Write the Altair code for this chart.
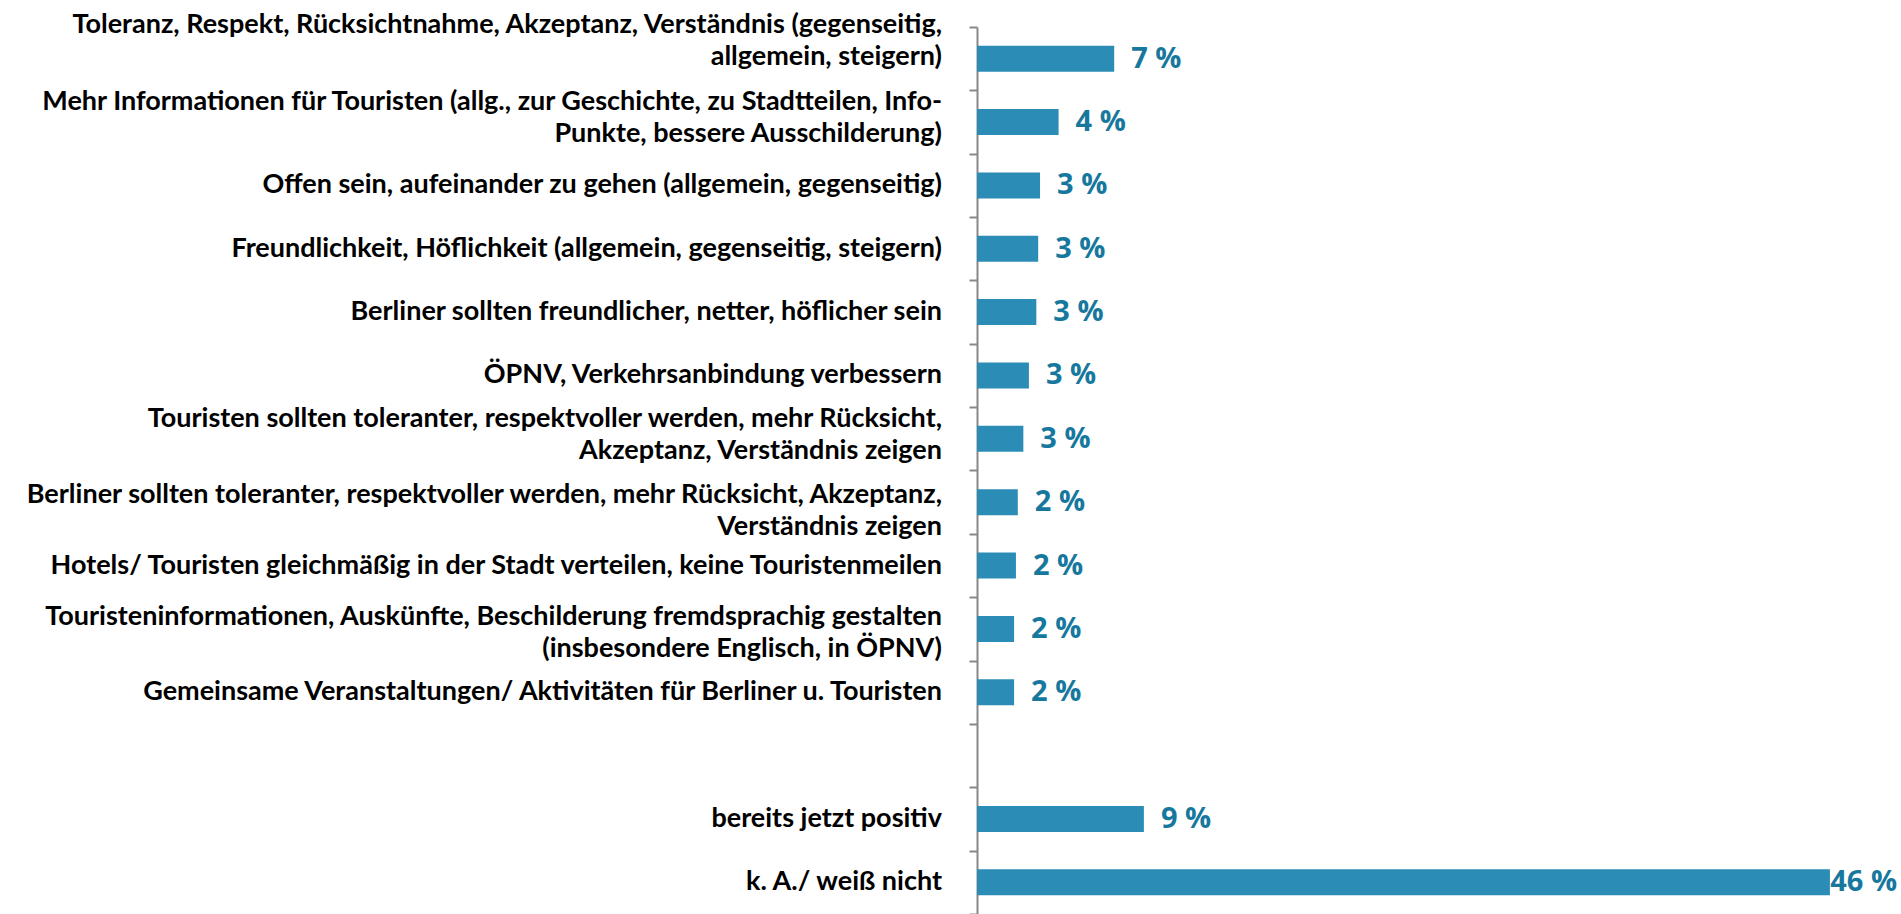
import altair as alt
import pandas as pd

categories = [
    "Toleranz, Respekt, Rücksichtnahme, Akzeptanz, Verständnis (gegenseitig,|allgemein, steigern)",
    "Mehr Informationen für Touristen (allg., zur Geschichte, zu Stadtteilen, Info-|Punkte, bessere Ausschilderung)",
    "Offen sein, aufeinander zu gehen (allgemein, gegenseitig)",
    "Freundlichkeit, Höflichkeit (allgemein, gegenseitig, steigern)",
    "Berliner sollten freundlicher, netter, höflicher sein",
    "ÖPNV, Verkehrsanbindung verbessern",
    "Touristen sollten toleranter, respektvoller werden, mehr Rücksicht,|Akzeptanz, Verständnis zeigen",
    "Berliner sollten toleranter, respektvoller werden, mehr Rücksicht, Akzeptanz,|Verständnis zeigen",
    "Hotels/ Touristen gleichmäßig in der Stadt verteilen, keine Touristenmeilen",
    "Touristeninformationen, Auskünfte, Beschilderung fremdsprachig gestalten|(insbesondere Englisch, in ÖPNV)",
    "Gemeinsame Veranstaltungen/ Aktivitäten für Berliner u. Touristen",
    "bereits jetzt positiv",
    "k. A./  weiß nicht",
]
values = [7.4, 4.4, 3.4, 3.3, 3.2, 2.8, 2.5, 2.2, 2.1, 2.0, 2.0, 9.0, 46.0]
labels = ["7 %", "4 %", "3 %", "3 %", "3 %", "3 %", "3 %", "2 %", "2 %", "2 %", "2 %", "9 %", "46 %"]

gap = " "
domain = categories[:11] + [gap] + categories[11:]

df = pd.DataFrame({"cat": categories, "value": values, "label": labels})

yscale = alt.Scale(domain=domain, paddingInner=0, paddingOuter=0)
xscale = alt.Scale(domain=[0, 48], nice=False)

y = alt.Y(
    "cat:N",
    sort=domain,
    scale=yscale,
    axis=alt.Axis(
        title=None,
        labels=False,
        tickBand="extent",
        tickSize=8,
        tickColor="#888888",
        tickWidth=2,
        domainColor="#888888",
        domainWidth=2,
        grid=False,
    ),
)

bars = alt.Chart(df).mark_bar(size=26, color="#2B8CB5").encode(
    x=alt.X("value:Q", scale=xscale, axis=None), y=y
)

text = (
    alt.Chart(df)
    .transform_calculate(pos="min(datum.value, 45.1)")
    .mark_text(
        align="left",
        baseline="middle",
        dx=17,
        font="Open Sans",
        fontWeight="bold",
        fontSize=29,
        color="#17789E",
    )
    .encode(x=alt.X("pos:Q", scale=xscale, axis=None), y=y, text="label:N")
)


def cat_labels(test, dy):
    return (
        alt.Chart(df)
        .transform_filter(test)
        .mark_text(
            align="right",
            baseline="middle",
            dx=-35,
            dy=dy,
            lineBreak="|",
            lineHeight=32,
            font="Lato",
            fontWeight="bold",
            fontSize=27,
            color="#000000",
        )
        .encode(x=alt.datum(0, scale=xscale), y=y, text="cat:N")
    )


def starts(prefix):
    return f"indexof(datum.cat, '{prefix}') == 0"


special = [("Toleranz", -34), ("Berliner sollten toleranter", -7), ("Touristeninformationen", -12)]
multi = "indexof(datum.cat, '|') >= 0"
not_special = " && ".join(f"!({starts(p)})" for p, _ in special)

layers = [bars, text]
layers += [cat_labels(starts(p), d) for p, d in special]
layers.append(cat_labels(f"{multi} && {not_special}", -20))
layers.append(cat_labels(f"!({multi})", 0))

chart = (
    alt.layer(*layers)
    .properties(
        width=890,
        height=887,
        padding={"left": 977, "top": 27, "right": 34, "bottom": 0},
        autosize=alt.AutoSizeParams(type="none"),
        background="#ffffff",
    )
    .configure_view(stroke="transparent", strokeWidth=0)
)

chart.save("out.html", embed_options={"renderer": "svg", "actions": False})
